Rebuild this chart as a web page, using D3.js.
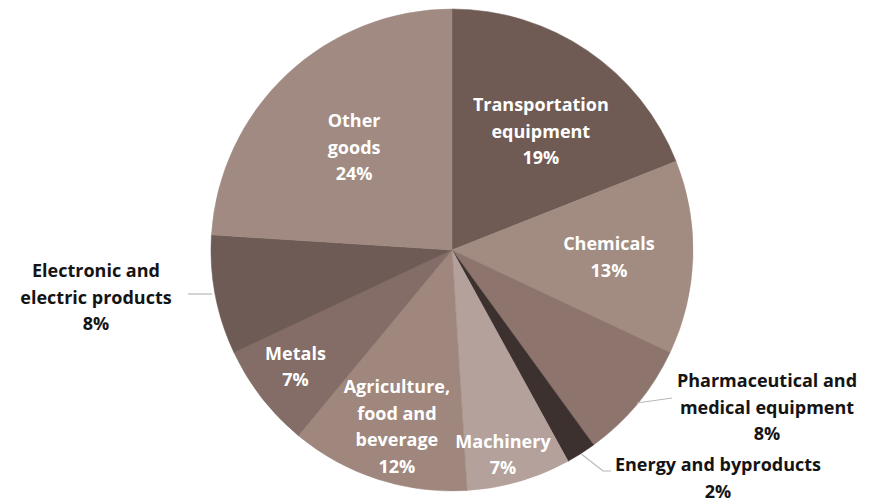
<!DOCTYPE html>
<html>
<head>
<meta charset="utf-8">
<script src="https://cdn.jsdelivr.net/npm/d3@7"></script>
<style>
  html, body { margin: 0; padding: 0; background: #ffffff; }
  svg { display: block; }
  text { font-family: "Open Sans", "Noto Sans", sans-serif; font-weight: 700; }
</style>
</head>
<body>
<svg id="chart" width="876" height="500"></svg>
<script>
// Export shares by product group (percent), clockwise from 12 o'clock
const categories = [
  "Transportation equipment",
  "Chemicals",
  "Pharmaceutical and medical equipment",
  "Energy and byproducts",
  "Machinery",
  "Agriculture, food and beverage",
  "Metals",
  "Electronic and electric products",
  "Other goods"
];
const shares = [19, 13, 8, 2, 7, 12, 7, 8, 24];
const sliceColors = ["#6f5b54", "#a28b81", "#8d756d", "#3d3130", "#b4a19b", "#9f877e", "#846d66", "#6f5b55", "#a08a81"];

// Label text lines for each slice (inside = white on slice, outside = with leader line)
const labelLines = [
  ["Transportation", "equipment"],
  ["Chemicals"],
  ["Pharmaceutical and", "medical equipment"],
  ["Energy and byproducts"],
  ["Machinery"],
  ["Agriculture,", "food and", "beverage"],
  ["Metals"],
  ["Electronic and", "electric products"],
  ["Other", "goods"]
];
const labelInside = [true, true, false, false, true, true, true, false, true];

const W = 876, H = 500;
const cx = 452, cy = 250, R = 241;
const lineH = 26.5;
const fontSize = 18;

const svg = d3.select("#chart");
const g = svg.append("g").attr("transform", `translate(${cx},${cy})`);

const data = categories.map((c, i) => ({ name: c, value: shares[i], i }));
const pie = d3.pie().value(d => d.value).sort(null);
const arcs = pie(data);
const arc = d3.arc().innerRadius(0).outerRadius(R);

const color = d3.scaleOrdinal().domain(categories).range(sliceColors);

g.selectAll("path.slice")
  .data(arcs)
  .join("path")
  .attr("class", "slice")
  .attr("d", arc)
  .attr("fill", d => color(d.data.name))
  .attr("stroke", d => color(d.data.name))
  .attr("stroke-width", 0.5);

// Inside label placement: radial fraction of R and angular nudge (degrees) from slice middle
const insideLayout = {
  0: { r: 0.614, da: 2.7 },
  1: { r: 0.652, da: 0.8 },
  4: { r: 0.875, da: 2.2 },
  5: { r: 0.769, da: -0.7 },
  6: { r: 0.81, da: 1.1 },
  8: { r: 0.588, da: -0.5 }
};

function mid(d) { return (d.startAngle + d.endAngle) / 2; }
function polar(a, r) { return [Math.sin(a) * r, -Math.cos(a) * r]; }

const labels = svg.append("g");

arcs.forEach(d => {
  const i = d.data.i;
  if (!labelInside[i]) return;
  const L = insideLayout[i];
  const lines = labelLines[i].concat([d3.format("d")(d.data.value) + "%"]);
  const [px, py] = polar(mid(d) + L.da * Math.PI / 180, R * L.r);
  const x = cx + px;
  const yc = cy + py;
  const y0 = yc - (lines.length - 1) * lineH / 2;
  const t = labels.append("text")
    .attr("text-anchor", "middle")
    .attr("fill", "#ffffff")
    .attr("font-size", fontSize);
  lines.forEach((ln, k) => {
    t.append("tspan").attr("x", x).attr("y", y0 + k * lineH).attr("dy", "0.35em").text(ln);
  });
});

// Outside labels with leader lines
const outside = {
  2: { x: 767, y: 381, leader: a => { const [px, py] = polar(a, R - 1); return [[cx + px, cy + py], [672, 398]]; } },
  3: { x: 718, y: 465, leader: a => { const [px, py] = polar(a, R + 1); return [[cx + px, cy + py], [603, 471], [611, 471]]; } },
  7: { x: 96, y: 271, leader: a => [[188, 294], [cx - R + 1, 294]] }
};

arcs.forEach(d => {
  const i = d.data.i;
  if (labelInside[i]) return;
  const o = outside[i];
  const pts = o.leader(mid(d));
  labels.append("path")
    .attr("d", d3.line()(pts))
    .attr("fill", "none")
    .attr("stroke", "#b8b8b8")
    .attr("stroke-width", 1.2);
  const lines = labelLines[i].concat([d3.format("d")(d.data.value) + "%"]);
  const t = labels.append("text")
    .attr("text-anchor", "middle")
    .attr("fill", "#141414")
    .attr("font-size", fontSize);
  lines.forEach((ln, k) => {
    t.append("tspan").attr("x", o.x).attr("y", o.y + k * lineH).attr("dy", "0.35em").text(ln);
  });
});
</script>
</body>
</html>
